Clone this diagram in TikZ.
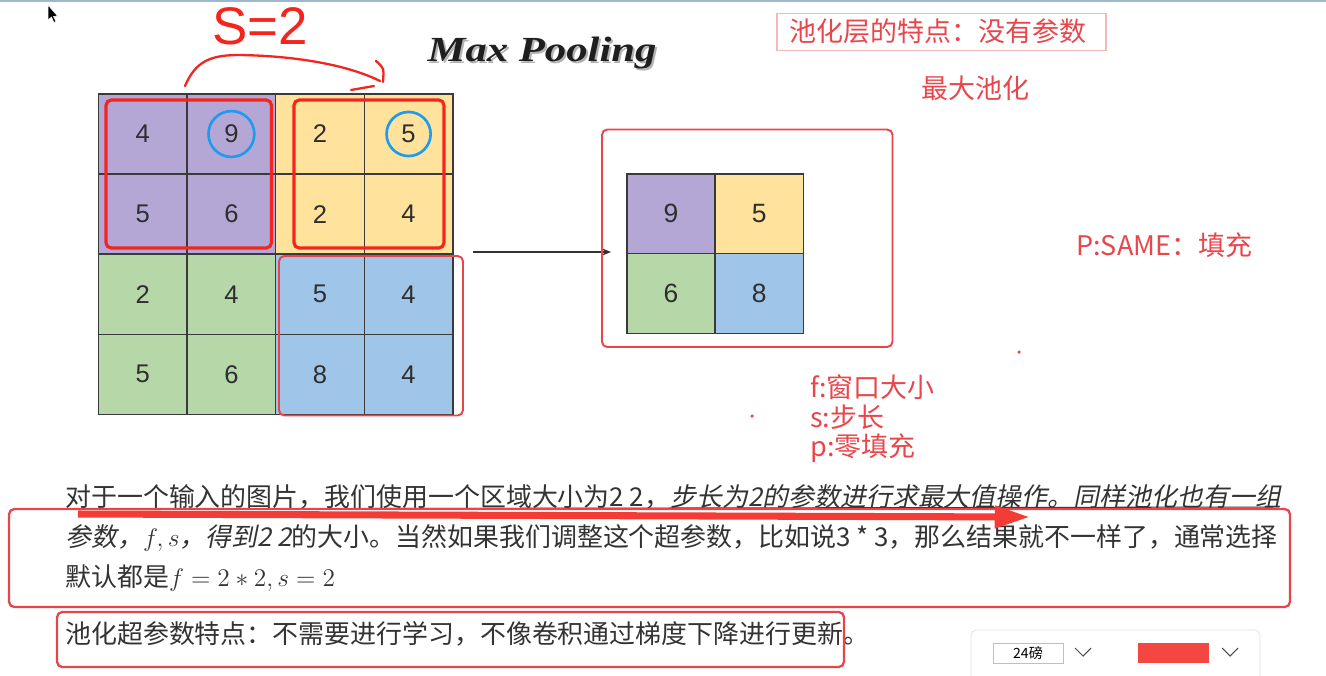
\documentclass[tikz,border=0pt]{standalone}
\usepackage{fontspec}
\setmainfont{Noto Sans CJK SC}
\newfontfamily\cjkit[FakeSlant=0.2]{Noto Sans CJK SC}
\newfontfamily\digitfont{Liberation Sans}
\newfontfamily\titlefont{Liberation Serif}
\usetikzlibrary{arrows.meta}

\definecolor{poolpur}{HTML}{B4A7D6}
\definecolor{poolyel}{HTML}{FFE29B}
\definecolor{poolgrn}{HTML}{B6D7A8}
\definecolor{poolblu}{HTML}{9FC5E8}
\definecolor{gridline}{HTML}{3A3A3A}
\definecolor{markred}{HTML}{F2261F}
\definecolor{notered}{HTML}{E9464B}
\definecolor{boxred}{HTML}{E8454A}
\definecolor{pinkline}{HTML}{F5B8BA}
\definecolor{ringblue}{HTML}{1E9BF0}
\definecolor{textgray}{HTML}{333333}
\definecolor{topline}{HTML}{9BB8CC}

\begin{document}
\begin{tikzpicture}[x=0.567pt, y=-0.567pt,
  cellbox/.style={draw=gridline, line width=0.8pt, minimum width=50.2pt,
    minimum height=45.4pt, inner sep=0pt, text=textgray!90!black,
    font=\digitfont\fontsize{14.5}{14.5}\selectfont},
  notetext/.style={text=notered, anchor=base west, inner sep=0pt,
    font=\fontsize{15.3}{16}\selectfont},
  bodytext/.style={text=textgray, anchor=base west, inner sep=0pt,
    font=\fontsize{14.7}{16}\selectfont},
  redframe/.style={draw=boxred, line width=1.3pt, rounded corners=3pt},
  chevron/.style={draw=black!70, line width=0.6pt}]
  \useasboundingbox (0,0) rectangle (1326,675);
  % Línia superior i cursor
  \draw[topline, line width=1.2pt] (0,1) -- (1326,1);
  \fill[black, draw=white, line width=0.3pt] (48,5) -- (48,20) -- (51.5,17) -- (54,22.5)
    -- (56,21.5) -- (53.5,16.5) -- (57.5,16) -- cycle;
  % Títol
  \node[text=black!30, xscale=1.21, font=\titlefont\bfseries\itshape\fontsize{20}{20}\selectfont]
    (titleshadow) at (544,55) {Max Pooling};
  \node[text=black!88, xscale=1.21, font=\titlefont\bfseries\itshape\fontsize{20}{20}\selectfont]
    (title) at (542,53) {Max Pooling};
  % Entrada 4x4
  \foreach \r/\c/\v/\col in {0/0/4/poolpur,0/1/9/poolpur,0/2/2/poolyel,0/3/5/poolyel,
      1/0/5/poolpur,1/1/6/poolpur,1/2/2/poolyel,1/3/4/poolyel,
      2/0/2/poolgrn,2/1/4/poolgrn,2/2/5/poolblu,2/3/4/poolblu,
      3/0/5/poolgrn,3/1/6/poolgrn,3/2/8/poolblu,3/3/4/poolblu}
    \node[cellbox, fill=\col] (in\r\c) at ({142.8+88.6*\c},{134+80.1*\r}) {\v};
  % Finestres de pooling
  \draw[redframe, draw=markred, line width=1.8pt] (106,100) rectangle (271.5,248);
  \draw[redframe, draw=markred, line width=1.8pt] (294,100) rectangle (444,248);
  \draw[redframe, line width=1.1pt] (279,256) rectangle (463,415.5);
  \draw[ringblue, line width=1.5pt] (in01) circle[radius=13pt];
  \draw[ringblue, line width=1.5pt] (in03) circle[radius=12.5pt];
  % Anotació a mà: S=2
  \node[text=markred, font=\digitfont\fontsize{30}{30}\selectfont] (stride) at (260,26) {S=2};
  \draw[markred, line width=1.3pt, line cap=round] (185,86) .. controls (196,60) and (212,55) .. (240,55)
    .. controls (300,56) and (350,66) .. (380,81);
  \draw[markred, line width=1.3pt, line cap=round] (376,61) .. controls (384,68) .. (383,82);
  \draw[markred, line width=1.3pt, line cap=round] (351,90) -- (374,86);
  % Fletxa i sortida 2x2
  \coordinate (arrS) at (473,252);
  \coordinate (arrE) at (611,252);
  \draw[-{Stealth[length=5pt,width=4pt]}, line width=0.7pt, black!80] (arrS) -- (arrE);
  \foreach \r/\c/\v/\col in {0/0/9/poolpur,0/1/5/poolyel,1/0/6/poolgrn,1/1/8/poolblu}
    \node[cellbox, fill=\col, minimum width=50pt, minimum height=45.2pt,
      font=\digitfont\fontsize{15}{15}\selectfont] (out\r\c) at ({670.9+88.3*\c},{213.8+79.7*\r}) {\v};
  \draw[redframe, line width=1.1pt] (602,129.5) rectangle (892.5,347);
  % Notes de la dreta
  \draw[pinkline, line width=0.6pt] (777,13.5) rectangle (1106,50.5);
  \node[notetext] (noteA) at (789,41.5) {池化层的特点：没有参数};
  \node[notetext] (noteB) at (921,98.5) {最大池化};
  \node[notetext] (noteC) at (1076,255.5) {P:SAME：填充};
  \node[notetext] (noteF) at (810,397) {f:窗口大小};
  \node[notetext] (noteS) at (810,427) {s:步长};
  \node[notetext] (noteP) at (810,456) {p:零填充};
  \fill[notered] (1019,352) circle[radius=1pt];
  \fill[notered] (752,416) circle[radius=1pt];
  % Paràgraf
  \node[bodytext] (lineA) at (65,506) {对于一个输入的图片，我们使用一个区域大小为2 2，{\cjkit 步长为2的参数进行求最大值操作。同样池化也有一组}};
  \node[bodytext] (lineB) at (65,546) {{\cjkit 参数，$f, s$，得到2 2}的大小。当然如果我们调整这个超参数，比如说3 * 3，那么结果就不一样了，通常选择};
  \node[bodytext] (lineC) at (65,586) {默认都是$f = 2*2, s = 2$};
  \draw[textgray, line width=0.6pt] (80,509) -- (1273,507);
  \draw[redframe] (9,509) rectangle (1290,607);
  \coordinate (redL) at (78,514);
  \coordinate (redR) at (1030,517);
  \draw[-{Triangle[length=20pt,width=12pt]}, markred!90, line width=4pt] (redL) -- (redR);
  \node[bodytext] (lineD) at (65,643) {池化超参数特点：不需要进行学习，不像卷积通过梯度下降进行更新。};
  \draw[redframe] (57,612) rectangle (844,667);
  % Barra d'eines
  \draw[draw=black!12, fill=white, rounded corners=3pt] (971,630) rectangle (1260,682);
  \node[draw=black!25, minimum width=39.7pt, minimum height=11.3pt, inner sep=0pt,
    font=\fontsize{8}{8}\selectfont] (sizebox) at (1028,653) {24磅};
  \draw[chevron] (1075,648) -- (1083,656) -- (1091,648);
  \node[fill=markred!85, minimum width=40.3pt, minimum height=11.3pt, inner sep=0pt] (colorbox) at (1173.5,653) {};
  \draw[chevron] (1222,648) -- (1230,656) -- (1238,648);
\end{tikzpicture}
\end{document}
